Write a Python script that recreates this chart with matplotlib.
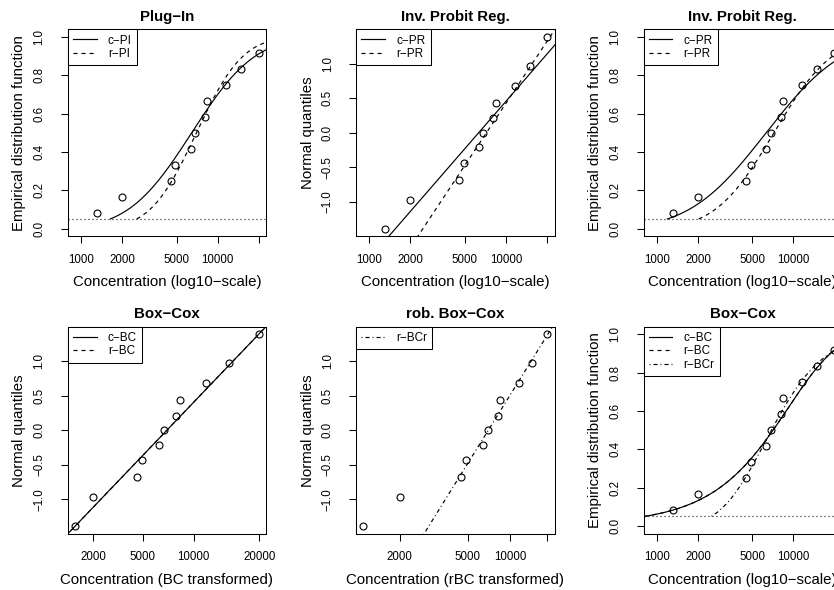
import numpy as np
import matplotlib
matplotlib.use('Agg')
import matplotlib.pyplot as plt
from math import erf, sqrt

plt.rcParams['font.family'] = ['Liberation Sans', 'DejaVu Sans']
plt.rcParams['lines.scale_dashes'] = False
plt.rcParams['axes.linewidth'] = 0.75

# ---- data ----
conc = [1310, 2000, 4520, 4900, 6340, 6830, 8040, 8400, 11600, 14900, 19900]
ecdf = [0.083, 0.167, 0.250, 0.333, 0.417, 0.500, 0.583, 0.667, 0.750, 0.833, 0.917]
normq = [-1.383, -0.967, -0.674, -0.431, -0.210, 0.0, 0.210, 0.431, 0.674, 0.967, 1.383]

# fitted models (log10 scale: mean, sd)
cPI = (3.810, 0.363)
rPI = (3.845, 0.266)
cPR = (3.800, 0.440)
rPR = (3.857, 0.3357)
# Box-Cox models: (lambda, median concentration, sd on transformed scale)
cBC = (0.37, 7090, 24.1)
rBC = (0.37, 7090, 24.1)
rBCr = (-0.22, 6900, 0.0987)

z05 = -1.645
level = 0.05

log_ticks = [1000, 2000, 5000, 10000, 20000]
log_tick_labels = ['1000', '2000', '5000', '10000', '']
bc_ticks = [1000, 2000, 5000, 10000, 20000]
bc_tick_labels = ['1000', '2000', '5000', '10000', '20000']
rbc_tick_labels = ['1000', '2000', '5000', '10000', '']
ecdf_ticks = [0.0, 0.2, 0.4, 0.6, 0.8, 1.0]
nq_ticks = [-1.0, -0.5, 0.0, 0.5, 1.0]

# ---- helpers ----
def pnorm(z):
    return 0.5 * (1 + np.vectorize(erf)(np.asarray(z) / sqrt(2)))

def bc(x, lam):
    return (np.asarray(x, dtype=float) ** lam - 1) / lam

def bc_inv(t, lam):
    return (1 + lam * np.asarray(t, dtype=float)) ** (1 / lam)

W, H = 834, 590
fig = plt.figure(figsize=(W / 100, H / 100), dpi=100)
lefts = [67.7, 356.0, 643.5]
tops = [29.3, 326.7]
pw, ph = 198.5, 207.0

DASH = (0, (2.9, 2.9))
DOT = (0, (0.72, 2.16))
DASHDOT = (0, (0.72, 2.16, 2.9, 2.16))
LW = 0.85

def add_ax(r, c):
    l = lefts[c]; t = tops[r]
    return fig.add_axes([l / W, 1 - (t + ph) / H, pw / W, ph / H])

def style(ax, title, xlabel, ylabel, yticks):
    ax.set_title(title, fontweight='bold', fontsize=10.8, pad=6)
    ax.tick_params(axis='both', direction='out', length=5, width=0.75,
                   labelsize=8.3, colors='black')
    ax.tick_params(axis='x', pad=7.5)
    ax.tick_params(axis='y', pad=11)
    ax.set_yticks(yticks, labels=[('%.1f' % v).replace('-', '\u2212') for v in yticks],
                  rotation=90, va='center')
    ax.minorticks_off()
    ax.set_xlabel(xlabel, fontsize=10.8)
    ax.xaxis.set_label_coords(0.5, -0.222)
    ax.xaxis.label.set_va('center')
    ax.set_ylabel(ylabel, fontsize=10.8)
    ax.yaxis.set_label_coords(-0.243, 0.5)
    ax.yaxis.label.set_va('center')

def legend(ax, labels, styles):
    handles = [plt.Line2D([], [], color='black', lw=LW, linestyle=s) for s in styles]
    lg = ax.legend(handles, labels, loc='upper left', borderaxespad=0, fancybox=False,
                   framealpha=1, edgecolor='black', fontsize=8.5, handlelength=2.0,
                   handletextpad=0.95, borderpad=0.45, labelspacing=0.12)
    lg.get_frame().set_linewidth(0.75)

def points(ax, x, y):
    ax.plot(x, y, linestyle='none', marker='o', markersize=5.0, markerfacecolor='none',
            markeredgecolor='black', markeredgewidth=0.8)

def pad4(lo, hi):
    d = (hi - lo) * 0.04
    return lo - d, hi + d

xlog_lim = (800, 22650)
ecdf_lim = pad4(0, 1)
nq_lim = pad4(min(normq), max(normq))
xgrid_log = np.logspace(2.5, 4.6, 600)

def log_axis(ax):
    ax.set_xscale('log')
    ax.set_xticks(log_ticks, labels=log_tick_labels)
    ax.minorticks_off()
    ax.set_xlim(*xlog_lim)

# ---- Panel 1: Plug-In ----
ax = add_ax(0, 0)
points(ax, conc, ecdf)
for (mu, sd), ls in [(cPI, '-'), (rPI, DASH)]:
    x = xgrid_log[xgrid_log >= 10 ** (mu + z05 * sd)]
    ax.plot(x, pnorm((np.log10(x) - mu) / sd), color='black', lw=LW, linestyle=ls)
ax.axhline(level, color='black', lw=LW, linestyle=DOT)
log_axis(ax)
ax.set_ylim(*ecdf_lim)
style(ax, 'Plug\u2212In', 'Concentration (log10\u2212scale)', 'Empirical distribution function', ecdf_ticks)
legend(ax, ['c\u2212PI', 'r\u2212PI'], ['-', DASH])

# ---- Panel 2: Inv. Probit Reg. (normal quantiles) ----
ax = add_ax(0, 1)
points(ax, conc, normq)
for (mu, sd), ls in [(cPR, '-'), (rPR, DASH)]:
    ax.plot(xgrid_log, (np.log10(xgrid_log) - mu) / sd, color='black', lw=LW, linestyle=ls)
log_axis(ax)
ax.set_ylim(*nq_lim)
style(ax, 'Inv. Probit Reg.', 'Concentration (log10\u2212scale)', 'Normal quantiles', nq_ticks)
legend(ax, ['c\u2212PR', 'r\u2212PR'], ['-', DASH])

# ---- Panel 3: Inv. Probit Reg. (ECDF) ----
ax = add_ax(0, 2)
points(ax, conc, ecdf)
for (mu, sd), ls in [(cPR, '-'), (rPR, DASH)]:
    x = xgrid_log[xgrid_log >= 10 ** (mu + z05 * sd)]
    ax.plot(x, pnorm((np.log10(x) - mu) / sd), color='black', lw=LW, linestyle=ls)
ax.axhline(level, color='black', lw=LW, linestyle=DOT)
log_axis(ax)
ax.set_ylim(*ecdf_lim)
style(ax, 'Inv. Probit Reg.', 'Concentration (log10\u2212scale)', 'Empirical distribution function', ecdf_ticks)
legend(ax, ['c\u2212PR', 'r\u2212PR'], ['-', DASH])

# ---- Panel 4: Box-Cox (normal quantiles) ----
ax = add_ax(1, 0)
lam = cBC[0]
tx = bc(conc, lam)
points(ax, tx, normq)
tg = np.linspace(bc(500, lam), bc(40000, lam), 300)
for (l, med, sd), ls in [(cBC, '-'), (rBC, DASH)]:
    ax.plot(tg, (tg - bc(med, l)) / sd, color='black', lw=LW, linestyle=ls)
ax.set_xticks(bc(bc_ticks, lam), labels=bc_tick_labels)
ax.set_xlim(*pad4(tx.min(), tx.max()))
ax.set_ylim(*nq_lim)
style(ax, 'Box\u2212Cox', 'Concentration (BC transformed)', 'Normal quantiles', nq_ticks)
legend(ax, ['c\u2212BC', 'r\u2212BC'], ['-', DASH])

# ---- Panel 5: rob. Box-Cox (normal quantiles) ----
ax = add_ax(1, 1)
lam = rBCr[0]
tx = bc(conc, lam)
points(ax, tx, normq)
tg = np.linspace(bc(500, lam), bc(40000, lam), 300)
ax.plot(tg, (tg - bc(rBCr[1], lam)) / rBCr[2], color='black', lw=LW, linestyle=DASHDOT)
ax.set_xticks(bc(bc_ticks, lam), labels=rbc_tick_labels)
ax.set_xlim(*pad4(tx.min(), tx.max()))
ax.set_ylim(*nq_lim)
style(ax, 'rob. Box\u2212Cox', 'Concentration (rBC transformed)', 'Normal quantiles', nq_ticks)
legend(ax, ['r\u2212BCr'], [DASHDOT])

# ---- Panel 6: Box-Cox (ECDF) ----
ax = add_ax(1, 2)
points(ax, conc, ecdf)
for (l, med, sd), ls in [(cBC, '-'), (rBC, DASH), (rBCr, DASHDOT)]:
    t0 = bc(med, l)
    x = xgrid_log[xgrid_log >= bc_inv(t0 + z05 * sd, l)]
    ax.plot(x, pnorm((bc(x, l) - t0) / sd), color='black', lw=LW, linestyle=ls)
ax.axhline(level, color='black', lw=LW, linestyle=DOT)
log_axis(ax)
ax.set_ylim(*ecdf_lim)
style(ax, 'Box\u2212Cox', 'Concentration (log10\u2212scale)', 'Empirical distribution function', ecdf_ticks)
legend(ax, ['c\u2212BC', 'r\u2212BC', 'r\u2212BCr'], ['-', DASH, DASHDOT])

fig.savefig('out.png', dpi=100)
